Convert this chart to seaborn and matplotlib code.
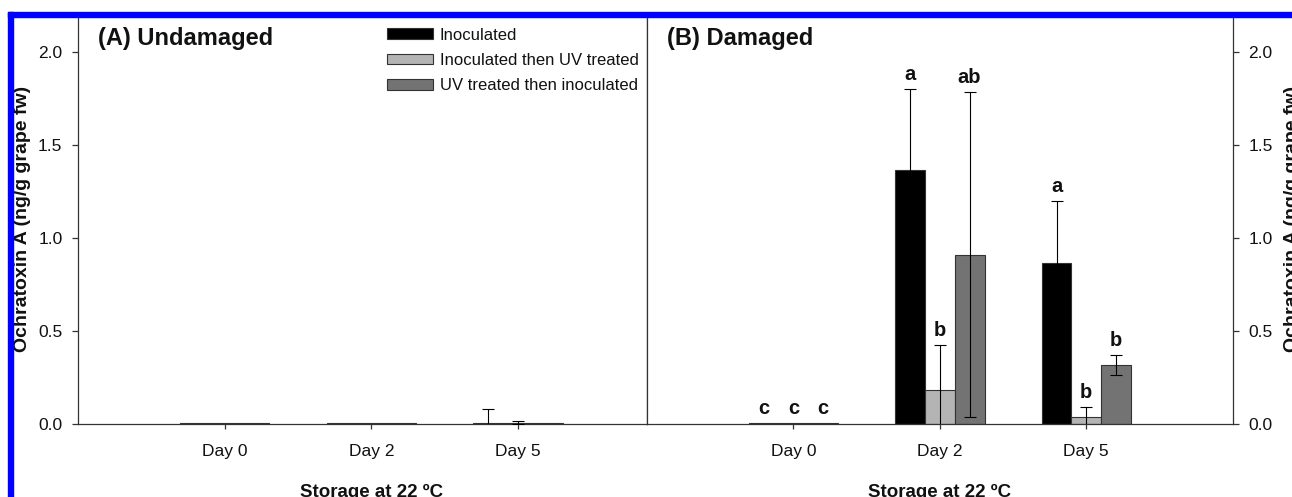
import numpy as np
import pandas as pd
import matplotlib
matplotlib.use("Agg")
import matplotlib.pyplot as plt
import matplotlib.transforms as mtransforms
from matplotlib import font_manager as fm
from matplotlib.patches import Rectangle, Patch
from matplotlib.container import BarContainer
import seaborn as sns

# ---------------- data ----------------
days = ["Day 0", "Day 2", "Day 5"]
treatments = ["Inoculated", "Inoculated then UV treated", "UV treated then inoculated"]
bar_colors = ["#000000", "#b4b4b4", "#737373"]

# (A) Undamaged
undam_inoc = [0.008, 0.008, 0.008]
undam_inoc_uv = [0.008, 0.008, 0.008]
undam_uv_inoc = [0.008, 0.008, 0.008]
undam_inoc_err = [0.0, 0.0, 0.072]
undam_inoc_uv_err = [0.0, 0.0, 0.010]
undam_uv_inoc_err = [0.0, 0.0, 0.0]

# (B) Damaged
dam_inoc = [0.005, 1.366, 0.864]
dam_inoc_uv = [0.005, 0.183, 0.039]
dam_uv_inoc = [0.005, 0.909, 0.317]
dam_inoc_err = [0.0, 0.434, 0.335]
dam_inoc_uv_err = [0.0, 0.242, 0.054]
dam_uv_inoc_err = [0.0, 0.872, 0.054]
dam_letters_inoc = ["c", "a", "a"]
dam_letters_inoc_uv = ["c", "b", "b"]
dam_letters_uv_inoc = ["c", "ab", "b"]

yticks = [0.0, 0.5, 1.0, 1.5, 2.0]
ylabel = "Ochratoxin A (ng/g grape fw)"
xlabel = "Storage at 22 ºC"


def make_df(v1, v2, v3):
    rows = []
    for t, vals in zip(treatments, [v1, v2, v3]):
        for d, v in zip(days, vals):
            rows.append({"day": d, "treatment": t, "value": v})
    return pd.DataFrame(rows)


df_undam = make_df(undam_inoc, undam_inoc_uv, undam_uv_inoc)
df_dam = make_df(dam_inoc, dam_inoc_uv, dam_uv_inoc)

# ---------------- style ----------------
sns.set_theme(style="ticks")


def has_font(name):
    try:
        fm.findfont(fm.FontProperties(family=name), fallback_to_default=False)
        return True
    except Exception:
        return False


if has_font("Liberation Sans Narrow"):
    narrow = "Liberation Sans Narrow"
    tick_fs = 14
    leg_fs = 14
else:
    narrow = "Liberation Sans"
    tick_fs = 12.5
    leg_fs = 12
base = "Liberation Sans"
plt.rcParams["font.family"] = [base, "DejaVu Sans"]

spine_c = "#333333"
W, H = 1292, 497
fig = plt.figure(figsize=(W / 100, H / 100), dpi=100)
fig.patch.set_facecolor("white")

ax_bottom = 1 - 424 / H
ax_top = 1 - 14.4 / H
ax1 = fig.add_axes([78 / W, ax_bottom, (647 - 78) / W, ax_top - ax_bottom])
ax2 = fig.add_axes([647 / W, ax_bottom, (1232.7 - 647) / W, ax_top - ax_bottom])


def draw_panel(ax, df, errs, xlim, title, letters=None, right=False):
    sns.barplot(data=df, x="day", y="value", hue="treatment", order=days,
                hue_order=treatments, palette=bar_colors, errorbar=None,
                width=0.61, gap=0, edgecolor=spine_c, linewidth=0.8,
                legend=False, ax=ax, zorder=2)
    bars = [c for c in ax.containers if isinstance(c, BarContainer)]
    for i, cont in enumerate(bars):
        xs = [p.get_x() + p.get_width() / 2 for p in cont.patches]
        ys = [p.get_height() for p in cont.patches]
        e = errs[i]
        sel = [k for k in range(len(xs)) if e[k] > 0]
        if sel:
            ax.errorbar([xs[k] for k in sel], [ys[k] for k in sel],
                        yerr=[e[k] for k in sel], fmt="none", ecolor="#000000",
                        elinewidth=0.8, capsize=4.3, capthick=0.8, zorder=3)
        if letters is not None:
            for k in range(len(xs)):
                ax.text(xs[k], ys[k] + e[k] + 0.048, letters[i][k],
                        ha="center", va="baseline", fontsize=14.5,
                        fontweight="bold", family=base, color="#111111")
    ax.set_xlim(*xlim)
    ax.set_ylim(0, 2.2)
    ax.set_yticks(yticks)
    ax.set_yticklabels([f"{t:.1f}" for t in yticks])
    ax.set_xticks(range(len(days)))
    ax.set_xticklabels(days)
    if right:
        ax.yaxis.tick_right()
        ax.yaxis.set_label_position("right")
        ax.tick_params(axis="y", left=False, right=True,
                       labelleft=False, labelright=True)
    for s in ax.spines.values():
        s.set_color(spine_c)
        s.set_linewidth(0.9)
        s.set_visible(True)
    ax.tick_params(axis="both", labelsize=tick_fs, labelcolor="#111111")
    ax.tick_params(axis="x", direction="out", length=3.6, width=0.9,
                   color=spine_c, pad=11)
    ax.tick_params(axis="y", direction="out", length=4.2, width=0.9,
                   color=spine_c, pad=7)
    for tk in ax.xaxis.get_major_ticks() + ax.yaxis.get_major_ticks():
        tk.label1.set_fontfamily(narrow)
        tk.label2.set_fontfamily(narrow)
    ax.set_xlabel(xlabel, fontsize=13.5, fontweight="bold", family=base,
                  color="#111111")
    tr = mtransforms.blended_transform_factory(ax.transData, ax.transAxes)
    ax.xaxis.set_label_coords(1.0, -0.147, transform=tr)
    ax.set_ylabel(ylabel, fontsize=14, fontweight="bold", family=base,
                  color="#111111", labelpad=5 if not right else 8)
    ax.text(0.035, 0.925, title, transform=ax.transAxes, ha="left",
            va="baseline", fontsize=17, fontweight="bold", family=base,
            color="#111111")
    ax.grid(False)
    ax.set_facecolor("white")


draw_panel(ax1, df_undam, [undam_inoc_err, undam_inoc_uv_err, undam_uv_inoc_err],
           (-1.0, 2.88), "(A) Undamaged")
draw_panel(ax2, df_dam, [dam_inoc_err, dam_inoc_uv_err, dam_uv_inoc_err],
           (-1.0, 3.0), "(B) Damaged",
           letters=[dam_letters_inoc, dam_letters_inoc_uv, dam_letters_uv_inoc],
           right=True)

handles = [Patch(facecolor=c, edgecolor=spine_c, linewidth=0.8) for c in bar_colors]
leg = ax1.legend(handles, treatments, loc="upper left",
                 bbox_to_anchor=(0.543, 0.968), frameon=False,
                 prop=fm.FontProperties(family=narrow, size=leg_fs),
                 handlelength=2.74, handleheight=0.6, handletextpad=0.44,
                 labelspacing=0.62, borderpad=0, borderaxespad=0)
for t in leg.get_texts():
    t.set_color("#111111")

# blue frame (cropped figure border)
blue = "#0000ff"
fig.add_artist(Rectangle((8.3 / W, 0), 5 / W, (H - 11.7) / H,
                         transform=fig.transFigure, color=blue, zorder=20))
fig.add_artist(Rectangle((8.3 / W, 1 - 16.7 / H), 1, 5 / H,
                         transform=fig.transFigure, color=blue, zorder=20))

fig.savefig("out.png", dpi=100)
